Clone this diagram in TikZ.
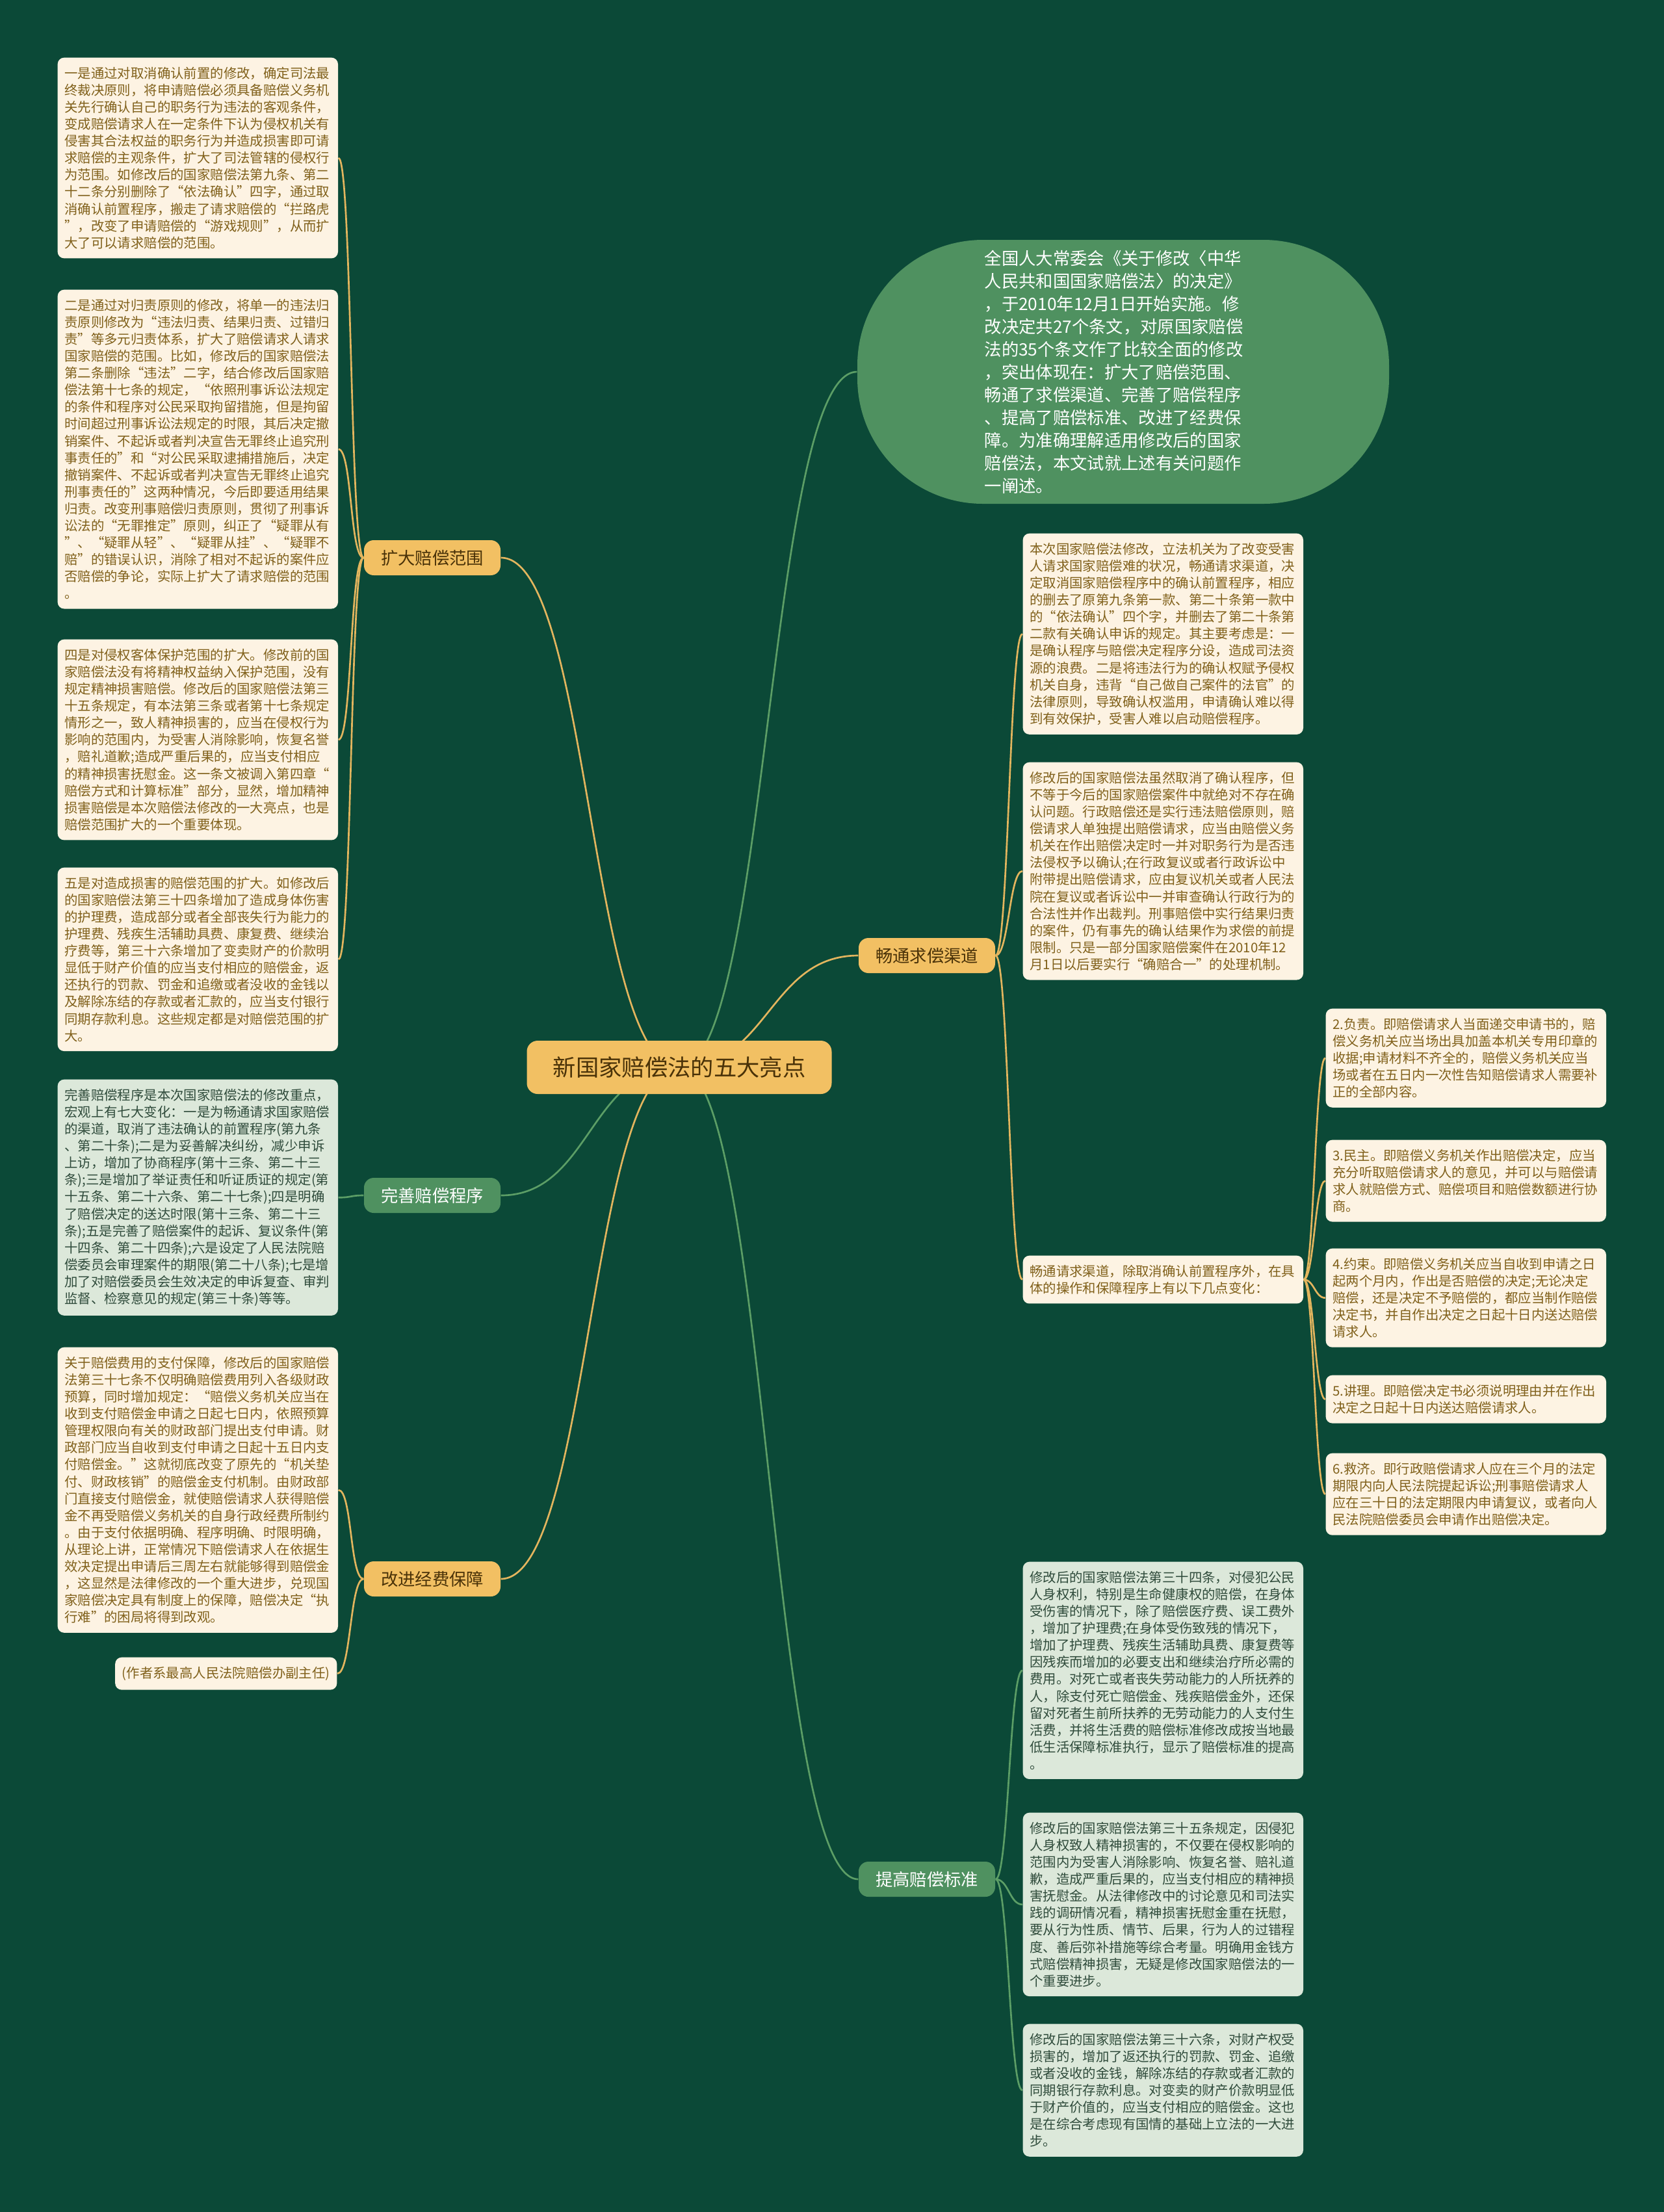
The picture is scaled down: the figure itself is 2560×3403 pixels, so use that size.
\documentclass[tikz,border=0pt]{standalone}
\usepackage{fontspec}
\newfontfamily\cjk{Noto Sans CJK SC}
\pgfdeclarelayer{lowlayer}
\pgfsetlayers{lowlayer,main}
\definecolor{bg}{HTML}{0B4937}
\definecolor{gold}{HTML}{F2C063}
\definecolor{goldline}{HTML}{E3B55E}
\definecolor{cream}{HTML}{FDF3E3}
\definecolor{creamtext}{HTML}{80601A}
\definecolor{lgreen}{HTML}{DCE8DA}
\definecolor{lgtext}{HTML}{2F4B3B}
\definecolor{midgreen}{HTML}{4F9160}
\definecolor{greenline}{HTML}{5C9E66}
\definecolor{darktext}{HTML}{4A3208}
\tikzset{
  cbox/.style={fill=cream, text=creamtext, rounded corners=3pt, align=left,
    text width=123pt, inner xsep=3.2pt, inner ysep=4.3pt, anchor=north west,
    font=\cjk\fontsize{6.12pt}{7.83pt}\selectfont},
  gbox/.style={cbox, fill=lgreen, text=lgtext},
  cnode/.style={fill=gold, text=darktext, rounded corners=5pt, minimum width=140.7pt,
    minimum height=24.6pt, inner sep=0pt, font=\cjk\fontsize{10.6pt}{12pt}\selectfont},
  bnode/.style={fill=gold, text=darktext, rounded corners=4.5pt, minimum width=63pt,
    minimum height=16.2pt, inner sep=0pt, font=\cjk\fontsize{7.9pt}{9pt}\selectfont},
  gnode/.style={bnode, fill=midgreen, text=white},
  enode/.style={fill=midgreen, text=white, rounded corners=58pt, minimum width=245.4pt,
    minimum height=121.8pt, inner sep=0pt, text width=128pt, align=left,
    font=\cjk\fontsize{7.9pt}{10.5pt}\selectfont},
  gl/.style={draw=goldline, line width=0.8pt},
  grl/.style={draw=greenline, line width=0.8pt},
}
\begin{document}
\begin{tikzpicture}[x=0.3pt,y=-0.3pt]
\useasboundingbox (0,0) rectangle (2560,3403);
\begin{pgfonlayer}{lowlayer}
\path[fill=bg] (0,0) rectangle (2560,3403);
\end{pgfonlayer}

% center and branches
\node[cnode] (c) at (1045,1642) {新国家赔偿法的五大亮点};
\node[bnode] (k1) at (665,858) {扩大赔偿范围};
\node[gnode] (k2) at (665,1839) {完善赔偿程序};
\node[bnode] (k3) at (665,2429) {改进经费保障};
\node[bnode] (r1) at (1426,1470) {畅通求偿渠道};
\node[gnode] (r2) at (1426,2891) {提高赔偿标准};

\node[enode] (e) at (1728,572) {全国人大常委会《关于修改〈中华\\人民共和国国家赔偿法〉的决定》\\，于2010年12月1日开始实施。修\\改决定共27个条文，对原国家赔偿\\法的35个条文作了比较全面的修改\\，突出体现在：扩大了赔偿范围、\\畅通了求偿渠道、完善了赔偿程序\\、提高了赔偿标准、改进了经费保\\障。为准确理解适用修改后的国家\\赔偿法，本文试就上述有关问题作\\一阐述。};

% left boxes
\node[cbox] (L1) at (88,88) {一是通过对取消确认前置的修改，确定司法最\\终裁决原则，将申请赔偿必须具备赔偿义务机\\关先行确认自己的职务行为违法的客观条件，\\变成赔偿请求人在一定条件下认为侵权机关有\\侵害其合法权益的职务行为并造成损害即可请\\求赔偿的主观条件，扩大了司法管辖的侵权行\\为范围。如修改后的国家赔偿法第九条、第二\\十二条分别删除了“依法确认”四字，通过取\\消确认前置程序，搬走了请求赔偿的“拦路虎\\”，改变了申请赔偿的“游戏规则”，从而扩\\大了可以请求赔偿的范围。};
\node[cbox] (L2) at (88,445) {二是通过对归责原则的修改，将单一的违法归\\责原则修改为“违法归责、结果归责、过错归\\责”等多元归责体系，扩大了赔偿请求人请求\\国家赔偿的范围。比如，修改后的国家赔偿法\\第二条删除“违法”二字，结合修改后国家赔\\偿法第十七条的规定，“依照刑事诉讼法规定\\的条件和程序对公民采取拘留措施，但是拘留\\时间超过刑事诉讼法规定的时限，其后决定撤\\销案件、不起诉或者判决宣告无罪终止追究刑\\事责任的”和“对公民采取逮捕措施后，决定\\撤销案件、不起诉或者判决宣告无罪终止追究\\刑事责任的”这两种情况，今后即要适用结果\\归责。改变刑事赔偿归责原则，贯彻了刑事诉\\讼法的“无罪推定”原则，纠正了“疑罪从有\\”、“疑罪从轻”、“疑罪从挂”、“疑罪不\\赔”的错误认识，消除了相对不起诉的案件应\\否赔偿的争论，实际上扩大了请求赔偿的范围\\。};
\node[cbox] (L3) at (88,983) {四是对侵权客体保护范围的扩大。修改前的国\\家赔偿法没有将精神权益纳入保护范围，没有\\规定精神损害赔偿。修改后的国家赔偿法第三\\十五条规定，有本法第三条或者第十七条规定\\情形之一，致人精神损害的，应当在侵权行为\\影响的范围内，为受害人消除影响，恢复名誉\\，赔礼道歉;造成严重后果的，应当支付相应\\的精神损害抚慰金。这一条文被调入第四章“\\赔偿方式和计算标准”部分，显然，增加精神\\损害赔偿是本次赔偿法修改的一大亮点，也是\\赔偿范围扩大的一个重要体现。};
\node[cbox] (L4) at (88,1334) {五是对造成损害的赔偿范围的扩大。如修改后\\的国家赔偿法第三十四条增加了造成身体伤害\\的护理费，造成部分或者全部丧失行为能力的\\护理费、残疾生活辅助具费、康复费、继续治\\疗费等，第三十六条增加了变卖财产的价款明\\显低于财产价值的应当支付相应的赔偿金，返\\还执行的罚款、罚金和追缴或者没收的金钱以\\及解除冻结的存款或者汇款的，应当支付银行\\同期存款利息。这些规定都是对赔偿范围的扩\\大。};
\node[gbox] (L5) at (88,1660) {完善赔偿程序是本次国家赔偿法的修改重点，\\宏观上有七大变化：一是为畅通请求国家赔偿\\的渠道，取消了违法确认的前置程序(第九条\\、第二十条);二是为妥善解决纠纷，减少申诉\\上访，增加了协商程序(第十三条、第二十三\\条);三是增加了举证责任和听证质证的规定(第\\十五条、第二十六条、第二十七条);四是明确\\了赔偿决定的送达时限(第十三条、第二十三\\条);五是完善了赔偿案件的起诉、复议条件(第\\十四条、第二十四条);六是设定了人民法院赔\\偿委员会审理案件的期限(第二十八条);七是增\\加了对赔偿委员会生效决定的申诉复查、审判\\监督、检察意见的规定(第三十条)等等。};
\node[cbox] (L6) at (88,2072) {关于赔偿费用的支付保障，修改后的国家赔偿\\法第三十七条不仅明确赔偿费用列入各级财政\\预算，同时增加规定：“赔偿义务机关应当在\\收到支付赔偿金申请之日起七日内，依照预算\\管理权限向有关的财政部门提出支付申请。财\\政部门应当自收到支付申请之日起十五日内支\\付赔偿金。”这就彻底改变了原先的“机关垫\\付、财政核销”的赔偿金支付机制。由财政部\\门直接支付赔偿金，就使赔偿请求人获得赔偿\\金不再受赔偿义务机关的自身行政经费所制约\\。由于支付依据明确、程序明确、时限明确，\\从理论上讲，正常情况下赔偿请求人在依据生\\效决定提出申请后三周左右就能够得到赔偿金\\，这显然是法律修改的一个重大进步，兑现国\\家赔偿决定具有制度上的保障，赔偿决定“执\\行难”的困局将得到改观。};
\node[cbox, text width=, anchor=north east] (L7) at (519,2549) {(作者系最高人民法院赔偿办副主任)};

% right boxes
\node[cbox] (R1) at (1573,820) {本次国家赔偿法修改，立法机关为了改变受害\\人请求国家赔偿难的状况，畅通请求渠道，决\\定取消国家赔偿程序中的确认前置程序，相应\\的删去了原第九条第一款、第二十条第一款中\\的“依法确认”四个字，并删去了第二十条第\\二款有关确认申诉的规定。其主要考虑是：一\\是确认程序与赔偿决定程序分设，造成司法资\\源的浪费。二是将违法行为的确认权赋予侵权\\机关自身，违背“自己做自己案件的法官”的\\法律原则，导致确认权滥用，申请确认难以得\\到有效保护，受害人难以启动赔偿程序。};
\node[cbox] (R2) at (1573,1172) {修改后的国家赔偿法虽然取消了确认程序，但\\不等于今后的国家赔偿案件中就绝对不存在确\\认问题。行政赔偿还是实行违法赔偿原则，赔\\偿请求人单独提出赔偿请求，应当由赔偿义务\\机关在作出赔偿决定时一并对职务行为是否违\\法侵权予以确认;在行政复议或者行政诉讼中\\附带提出赔偿请求，应由复议机关或者人民法\\院在复议或者诉讼中一并审查确认行政行为的\\合法性并作出裁判。刑事赔偿中实行结果归责\\的案件，仍有事先的确认结果作为求偿的前提\\限制。只是一部分国家赔偿案件在2010年12\\月1日以后要实行“确赔合一”的处理机制。};
\node[cbox] (R3) at (1573,1931) {畅通请求渠道，除取消确认前置程序外，在具\\体的操作和保障程序上有以下几点变化：};

\node[cbox] (F1) at (2039,1551) {2.负责。即赔偿请求人当面递交申请书的，赔\\偿义务机关应当场出具加盖本机关专用印章的\\收据;申请材料不齐全的，赔偿义务机关应当\\场或者在五日内一次性告知赔偿请求人需要补\\正的全部内容。};
\node[cbox] (F2) at (2039,1753) {3.民主。即赔偿义务机关作出赔偿决定，应当\\充分听取赔偿请求人的意见，并可以与赔偿请\\求人就赔偿方式、赔偿项目和赔偿数额进行协\\商。};
\node[cbox] (F3) at (2039,1920) {4.约束。即赔偿义务机关应当自收到申请之日\\起两个月内，作出是否赔偿的决定;无论决定\\赔偿，还是决定不予赔偿的，都应当制作赔偿\\决定书，并自作出决定之日起十日内送达赔偿\\请求人。};
\node[cbox] (F4) at (2039,2115) {5.讲理。即赔偿决定书必须说明理由并在作出\\决定之日起十日内送达赔偿请求人。};
\node[cbox] (F5) at (2039,2235) {6.救济。即行政赔偿请求人应在三个月的法定\\期限内向人民法院提起诉讼;刑事赔偿请求人\\应在三十日的法定期限内申请复议，或者向人\\民法院赔偿委员会申请作出赔偿决定。};

\node[gbox] (B1) at (1573,2402) {修改后的国家赔偿法第三十四条，对侵犯公民\\人身权利，特别是生命健康权的赔偿，在身体\\受伤害的情况下，除了赔偿医疗费、误工费外\\，增加了护理费;在身体受伤致残的情况下，\\增加了护理费、残疾生活辅助具费、康复费等\\因残疾而增加的必要支出和继续治疗所必需的\\费用。对死亡或者丧失劳动能力的人所抚养的\\人，除支付死亡赔偿金、残疾赔偿金外，还保\\留对死者生前所扶养的无劳动能力的人支付生\\活费，并将生活费的赔偿标准修改成按当地最\\低生活保障标准执行，显示了赔偿标准的提高\\。};
\node[gbox] (B2) at (1573,2788) {修改后的国家赔偿法第三十五条规定，因侵犯\\人身权致人精神损害的，不仅要在侵权影响的\\范围内为受害人消除影响、恢复名誉、赔礼道\\歉，造成严重后果的，应当支付相应的精神损\\害抚慰金。从法律修改中的讨论意见和司法实\\践的调研情况看，精神损害抚慰金重在抚慰，\\要从行为性质、情节、后果，行为人的过错程\\度、善后弥补措施等综合考量。明确用金钱方\\式赔偿精神损害，无疑是修改国家赔偿法的一\\个重要进步。};
\node[gbox] (B3) at (1573,3113) {修改后的国家赔偿法第三十六条，对财产权受\\损害的，增加了返还执行的罚款、罚金、追缴\\或者没收的金钱，解除冻结的存款或者汇款的\\同期银行存款利息。对变卖的财产价款明显低\\于财产价值的，应当支付相应的赔偿金。这也\\是在综合考虑现有国情的基础上立法的一大进\\步。};

% connectors
\begin{pgfonlayer}{lowlayer}
\draw[gl] (c.center) .. controls +(-138,0) and +(137,0) .. (k1.east);
\draw[grl] (c.center) .. controls +(-138,0) and +(137,0) .. (k2.east);
\draw[gl] (c.center) .. controls +(-138,0) and +(137,0) .. (k3.east);
\draw[grl] (c.center) .. controls +(137,0) and +(-137,0) .. (e.west);
\draw[gl] (c.center) .. controls +(137,0) and +(-137,0) .. (r1.west);
\draw[grl] (c.center) .. controls +(137,0) and +(-137,0) .. (r2.west);
\foreach \t in {L1,L2,L3,L4}
  \draw[gl] (k1.west) .. controls +(-21,0) and +(21,0) .. (\t.east);
\draw[grl] (k2.west) .. controls +(-21,0) and +(21,0) .. (L5.east);
\foreach \t in {L6,L7}
  \draw[gl] (k3.west) .. controls +(-21,0) and +(21,0) .. (\t.east);
\foreach \t in {R1,R2,R3}
  \draw[gl] (r1.east) .. controls +(20,0) and +(-20,0) .. (\t.west);
\foreach \t in {F1,F2,F3,F4,F5}
  \draw[gl] (R3.east) .. controls +(16,0) and +(-16,0) .. (\t.west);
\foreach \t in {B1,B2,B3}
  \draw[grl] (r2.east) .. controls +(20,0) and +(-20,0) .. (\t.west);
\end{pgfonlayer}
\end{tikzpicture}
\end{document}
